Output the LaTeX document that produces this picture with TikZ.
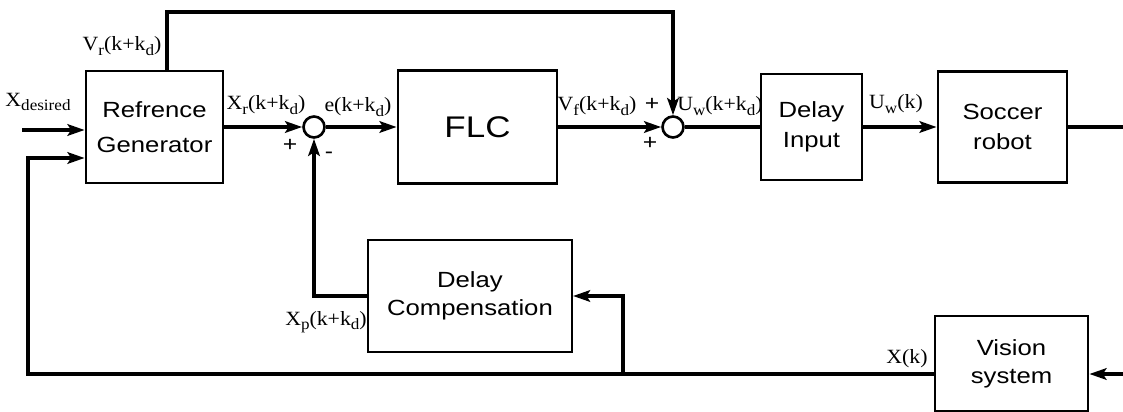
\documentclass[tikz,border=0pt]{standalone}
\usepackage{fontspec}
\setmainfont{Liberation Serif}[FakeStretch=1.08]
\setsansfont{Liberation Sans}[FakeStretch=1.17]
\usetikzlibrary{arrows.meta,positioning}
\newcommand{\lsub}[1]{\raisebox{-0.5ex}{\fontsize{9}{9}\selectfont #1}}

\begin{document}
\begin{tikzpicture}[
  x=0.02cm, y=-0.02cm,
  every node/.style={font=\sffamily\fontsize{12}{17}\selectfont},
  block/.style={draw, line width=1.6pt, align=center, inner sep=0pt},
  summer/.style={draw, circle, line width=1.5pt, minimum size=0.42cm, inner sep=0pt},
  lbl/.style={font=\rmfamily\fontsize{11.5}{13}\selectfont, inner sep=0pt},
  sign/.style={font=\sffamily\fontsize{12}{14}\selectfont, inner sep=0pt},
  wire/.style={line width=2.6pt},
  arrow/.style={-{Stealth[length=3.4mm,width=2.3mm,inset=0.7mm]}, line width=2.6pt}
]
\useasboundingbox (0,0) rectangle (1123,412);

\node[block, minimum width=2.74cm, minimum height=2.24cm, font=\sffamily\fontsize{12.5}{20}\selectfont] (refgen) at (154.5,127) {Refrence\\Generator};
\node[block, minimum width=3.18cm, minimum height=2.26cm, font=\sffamily\fontsize{17}{18}\selectfont] (flc) at (477.5,127) {FLC};
\node[block, minimum width=2.02cm, minimum height=2.12cm, font=\sffamily\fontsize{12.5}{17}\selectfont] (delayin) at (811.5,127) {Delay\\Input};
\node[block, minimum width=2.58cm, minimum height=2.22cm, font=\sffamily\fontsize{12.5}{17}\selectfont] (robot) at (1002.5,127) {Soccer\\robot};
\node[block, line width=1.2pt, minimum width=4.08cm, minimum height=2.24cm, font=\sffamily\fontsize{12.5}{16}\selectfont] (delaycomp) at (470,296) {Delay\\Compensation};
\node[block, minimum width=3.06cm, minimum height=1.9cm, font=\sffamily\fontsize{12.5}{16}\selectfont] (vision) at (1011.5,363.5) {Vision\\system};
\node[summer] (sum1) at (314,127) {};
\node[summer] (sum2) at (673,127) {};

% free ends and corners
\coordinate (xdes) at (22,130);
\coordinate (fbcorner) at (28,158);
\coordinate (vrtop) at (167,12);
\coordinate (branch) at (623,374);
\coordinate (xk) at (vision.west |- branch);
\coordinate (camera) at (1123,374);
\coordinate (out) at (1123,127);

\draw[arrow] (xdes) -- (xdes -| refgen.west);
\draw[arrow] (xk) -| (fbcorner) -- (fbcorner -| refgen.west);
\draw[arrow] (refgen.north -| vrtop) -- (vrtop) -| (sum2.north);
\draw[arrow] (refgen.east) -- (sum1.west);
\draw[arrow] (sum1.east) -- (flc.west);
\draw[arrow] (flc.east) -- (sum2.west);
\draw[wire] (sum2.east) -- (delayin.west);
\draw[arrow] (delayin.east) -- (robot.west);
\draw[wire] (robot.east) -- (out);
\draw[arrow] (camera) -- (camera -| vision.east);
\draw[arrow] (branch) |- (delaycomp.east);
\draw[arrow] (delaycomp.west) -| (sum1.south);

% signal labels
\node[lbl] (xdlbl) at (38,102) {X\lsub{desired}};
\node[lbl] (vrlbl) at (122,46) {V\lsub{r}(k+k\lsub{d})};
\node[lbl] (xrlbl) at (266,105) {X\lsub{r}(k+k\lsub{d})};
\node[lbl] (elbl) at (358,107) {e(k+k\lsub{d})};
\node[lbl] (vflbl) at (597,106) {V\lsub{f}(k+k\lsub{d})};
\node[lbl] (uwlbl) at (720,106) {U\lsub{w}(k+k\lsub{d})};
\node[lbl] (uklbl) at (896,104) {U\lsub{w}(k)};
\node[lbl] (xplbl) at (326,322) {X\lsub{p}(k+k\lsub{d})};
\node[lbl] (xklbl) at (907,359) {X(k)};

% summing signs
\node[sign] (p1) at (290,145) {+};
\node[sign] (m1) at (329,155) {-};
\node[sign] (p2) at (652,104) {+};
\node[sign] (p3) at (650,143) {+};
\end{tikzpicture}
\end{document}
